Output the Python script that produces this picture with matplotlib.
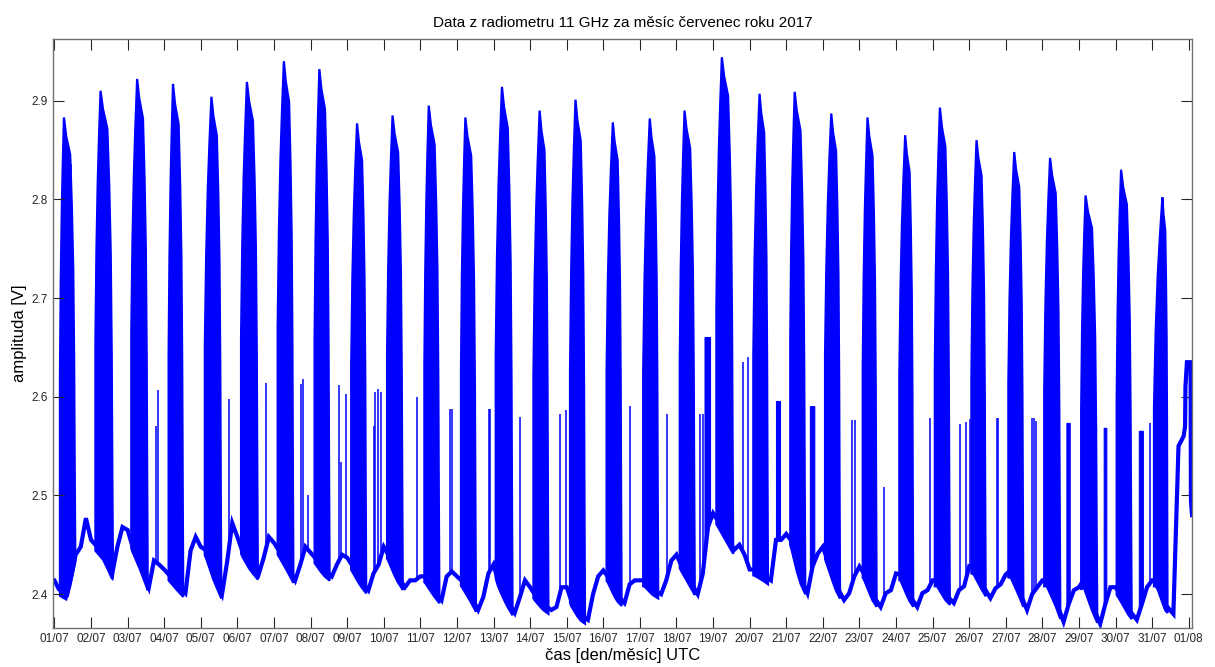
import numpy as np
import matplotlib
matplotlib.use("Agg")
import matplotlib.pyplot as plt

plt.rcParams['font.family'] = ['Liberation Sans', 'DejaVu Sans']

# ---- data (time in days since 01/07 00:00 UTC, amplitude in V) ----
tick_labels = ["%02d/07" % d for d in range(1, 32)] + ["01/08"]

# quiet-sky baseline, sampled at fixed fractions of every day
baseline_frac = [0.0, 0.12, 0.35, 0.58, 0.72, 0.86]
baseline_v = [
    2.414, 2.405, 2.400, 2.440, 2.448, 2.477,
    2.455, 2.450, 2.440, 2.421, 2.448, 2.468,
    2.465, 2.450, 2.430, 2.407, 2.434, 2.430,
    2.425, 2.420, 2.410, 2.401, 2.444, 2.458,
    2.448, 2.445, 2.420, 2.400, 2.433, 2.472,
    2.458, 2.445, 2.430, 2.420, 2.437, 2.458,
    2.452, 2.445, 2.430, 2.414, 2.430, 2.448,
    2.442, 2.437, 2.425, 2.418, 2.430, 2.440,
    2.437, 2.430, 2.415, 2.404, 2.421, 2.430,
    2.448, 2.440, 2.420, 2.407, 2.414, 2.414,
    2.418, 2.418, 2.405, 2.394, 2.418, 2.423,
    2.418, 2.414, 2.400, 2.384, 2.397, 2.421,
    2.430, 2.414, 2.395, 2.381, 2.397, 2.414,
    2.407, 2.400, 2.390, 2.384, 2.387, 2.407,
    2.407, 2.394, 2.380, 2.374, 2.400, 2.418,
    2.424, 2.418, 2.400, 2.391, 2.410, 2.414,
    2.414, 2.414, 2.405, 2.400, 2.414, 2.434,
    2.440, 2.430, 2.415, 2.400, 2.421, 2.468,
    2.482, 2.475, 2.460, 2.445, 2.450, 2.440,
    2.425, 2.425, 2.420, 2.414, 2.455, 2.455,
    2.461, 2.455, 2.420, 2.401, 2.428, 2.441,
    2.448, 2.435, 2.410, 2.394, 2.401, 2.418,
    2.428, 2.421, 2.400, 2.387, 2.401, 2.404,
    2.421, 2.420, 2.400, 2.387, 2.401, 2.404,
    2.414, 2.414, 2.400, 2.391, 2.404, 2.408,
    2.428, 2.426, 2.410, 2.396, 2.406, 2.410,
    2.420, 2.424, 2.405, 2.384, 2.400, 2.407,
    2.414, 2.414, 2.395, 2.372, 2.390, 2.404,
    2.407, 2.414, 2.390, 2.370, 2.390, 2.407,
    2.407, 2.400, 2.385, 2.374, 2.390, 2.407,
    2.414, 2.414, 2.390, 2.380, 2.550, 2.560,
]
# end of the record (31/07 evening into 01/08)
tail_t = [30.90, 30.91, 30.95, 31.05, 31.06, 31.09]
tail_v = [2.570, 2.610, 2.635, 2.635, 2.495, 2.480]

# daily bursts: start, peak time, end (fraction of the day) and peak value
burst_on = [0.15, 0.12, 0.10, 0.12, 0.11, 0.10, 0.10, 0.11, 0.11, 0.09, 0.11,
            0.11, 0.06, 0.09, 0.09, 0.09, 0.09, 0.09, 0.09, 0.10, 0.11, 0.06,
            0.09, 0.09, 0.06, 0.06, 0.07, 0.05, 0.06, 0.03, 0.05]
burst_pk = [0.26, 0.26, 0.26, 0.24, 0.29, 0.26, 0.27, 0.24, 0.27, 0.24, 0.23,
            0.23, 0.23, 0.26, 0.24, 0.26, 0.27, 0.22, 0.24, 0.27, 0.23, 0.23,
            0.22, 0.25, 0.20, 0.20, 0.23, 0.21, 0.18, 0.15, 0.28]
burst_off = [0.57, 0.60, 0.55, 0.52, 0.56, 0.56, 0.53, 0.52, 0.52, 0.52, 0.52,
             0.52, 0.52, 0.50, 0.50, 0.50, 0.50, 0.50, 0.55, 0.50, 0.52, 0.47,
             0.47, 0.47, 0.47, 0.45, 0.48, 0.49, 0.50, 0.44, 0.42]
burst_peak = [2.883, 2.910, 2.922, 2.917, 2.904, 2.919, 2.940, 2.932, 2.877,
              2.885, 2.895, 2.883, 2.914, 2.890, 2.901, 2.878, 2.882, 2.890,
              2.944, 2.907, 2.909, 2.887, 2.883, 2.865, 2.893, 2.860, 2.848,
              2.842, 2.804, 2.830, 2.802]

# burst envelope profile (relative time before / after the peak, relative height)
rise_u = [-1.0, -1.0, -0.8, -0.55, -0.3, 0.0]
rise_h = [0.0, 0.45, 0.65, 0.80, 0.90, 1.0]
fall_u = [0.0, 0.20, 0.55, 0.70, 0.82, 0.90, 0.95, 1.0]
fall_h = [1.0, 0.96, 0.92, 0.80, 0.66, 0.45, 0.20, 0.0]

# isolated short spikes
spike_t = [0.456, 2.77, 2.83, 4.76, 5.77, 6.74, 6.79, 6.93, 7.77, 7.84, 7.97,
           8.72, 8.75, 8.84, 8.92, 9.91, 10.82, 10.86, 11.87, 11.91, 12.08,
           12.73, 13.83, 13.99, 15.72, 16.74, 17.65, 17.72, 18.82, 18.96,
           21.79, 21.88, 22.66, 23.92, 24.75, 24.92, 25.01, 25.76, 25.80,
           26.71, 26.76, 26.82, 29.95, 30.40]
spike_v = [2.836, 2.570, 2.607, 2.598, 2.614, 2.613, 2.618, 2.500, 2.612,
           2.534, 2.603, 2.570, 2.605, 2.608, 2.605, 2.600, 2.588, 2.588,
           2.588, 2.588, 2.593, 2.580, 2.583, 2.587, 2.591, 2.583, 2.583,
           2.583, 2.635, 2.640, 2.576, 2.576, 2.509, 2.578, 2.572, 2.574,
           2.577, 2.578, 2.578, 2.578, 2.578, 2.575, 2.573, 2.605]

# short elevated plateaus
plateau_t0 = [17.78, 19.73, 20.66, 27.67, 28.69, 29.65]
plateau_t1 = [17.93, 19.84, 20.78, 27.76, 28.76, 29.76]
plateau_v = [2.660, 2.596, 2.590, 2.573, 2.568, 2.565]

# ---- build curves ----
days = len(burst_peak)
base_t = [-0.04]
base_vals = [baseline_v[0]]
for k in range(days):
    for j, f in enumerate(baseline_frac):
        base_t.append(k + f)
        base_vals.append(baseline_v[k * len(baseline_frac) + j])
base_t = np.array(base_t + tail_t)
base_vals = np.array(base_vals + tail_v)


def base_at(t):
    return np.interp(t, base_t, base_vals)


blue = '#0000FF'
fig = plt.figure(figsize=(12.15, 6.67), dpi=100)
ax = fig.add_axes([0.0439, 0.0589, 0.9369, 0.8819])

# baseline
ax.plot(base_t, base_vals, color=blue, lw=3.0, solid_joinstyle='miter')

# daily bursts
for k in range(days):
    t_on, t_pk, t_off = k + burst_on[k], k + burst_pk[k], k + burst_off[k]
    t = np.concatenate([t_pk + np.array(rise_u) * (t_pk - t_on),
                        t_pk + np.array(fall_u[1:]) * (t_off - t_pk)])
    h = np.concatenate([rise_h, fall_h[1:]])
    b = base_at(t)
    env = b + h * (burst_peak[k] - b)
    ax.fill(np.concatenate([t, t[::-1]]), np.concatenate([env, b[::-1] - 0.006]),
            color=blue, lw=1.6, ec=blue)

# spikes and plateaus
st = np.array(spike_t)
ax.vlines(st, base_at(st), spike_v, color=blue, lw=1.1)
for t0, t1, v in zip(plateau_t0, plateau_t1, plateau_v):
    tt = np.array([t0, t0, t1, t1])
    bb = base_at(tt)
    ax.fill(np.concatenate([tt, tt[::-1]]),
            np.concatenate([[bb[0], v, v, bb[3]], bb[::-1]]),
            color=blue, lw=0.8, ec=blue)

# ---- axes styling ----
ax.set_xlim(-0.03, 31.08)
ax.set_ylim(2.366, 2.962)
ax.set_xticks(np.arange(0, 32))
ax.set_xticklabels(tick_labels)
ax.set_yticks([2.4, 2.5, 2.6, 2.7, 2.8, 2.9])
ax.set_yticklabels(["2.4", "2.5", "2.6", "2.7", "2.8", "2.9"])
ax.tick_params(direction='in', length=8, width=0.8, top=True, right=True,
               labelsize=8.5, labelcolor='#262626', colors='#262626', pad=4)
for s in ax.spines.values():
    s.set_color('#707070')
    s.set_linewidth(1.0)

ax.set_title("Data z radiometru 11 GHz za měsíc červenec roku 2017",
             fontsize=11, pad=9)
ax.set_ylabel("amplituda [V]", fontsize=12, labelpad=3)
ax.set_xlabel("čas [den/měsíc] UTC", fontsize=12, labelpad=2)

fig.savefig("out.png", dpi=100)
